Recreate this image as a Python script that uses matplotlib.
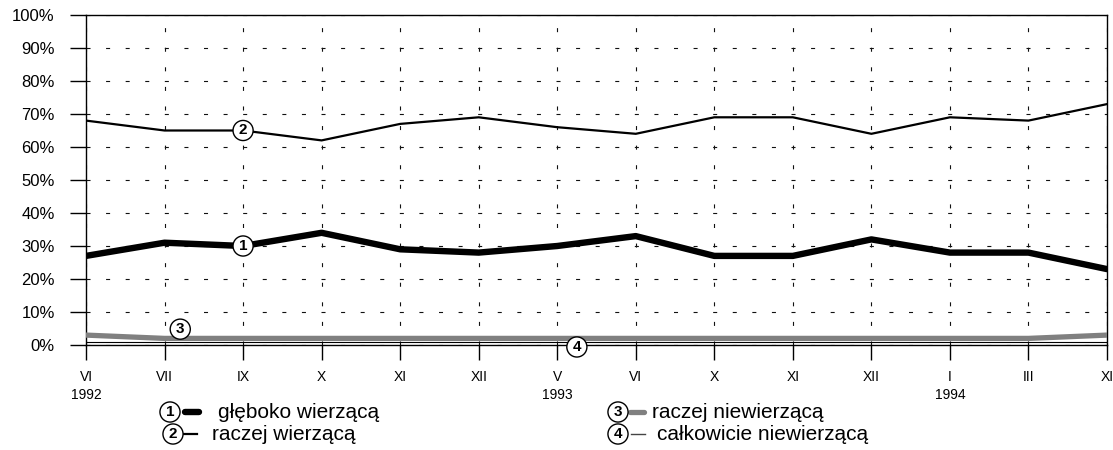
import matplotlib
matplotlib.use("Agg")
import matplotlib.pyplot as plt
from matplotlib.lines import Line2D

plt.rcParams['font.family'] = ['Liberation Sans', 'DejaVu Sans']
plt.rcParams['lines.scale_dashes'] = False

months = ["VI\n1992", "VII", "IX", "X", "XI", "XII", "V\n1993", "VI", "X", "XI", "XII", "I\n1994", "III", "XI"]
gleboko = [27, 31, 30, 34, 29, 28, 30, 33, 27, 27, 32, 28, 28, 23]
raczej_w = [68, 65, 65, 62, 67, 69, 66, 64, 69, 69, 64, 69, 68, 73]
raczej_n = [3, 2, 2, 2, 2, 2, 2, 2, 2, 2, 2, 2, 2, 3]
calkowicie = [1, 1, 1, 1, 1, 1, 1, 1, 1, 1, 1, 1, 1, 1]
legend_labels = ["głęboko wierzącą", "raczej wierzącą", "raczej niewierzącą", "całkowicie niewierzącą"]
yticks = list(range(0, 101, 10))
ytick_labels = [f"{v}%" for v in yticks]

W, H = 1113, 450
fig = plt.figure(figsize=(W / 100, H / 100), dpi=100)
ax = fig.add_axes([86 / W, 105 / H, 1021 / W, 330 / H])

x = list(range(len(months)))

ax.plot(x, raczej_n, color="#808080", lw=3.8, solid_capstyle="round", solid_joinstyle="round", zorder=3)
ax.plot(x, calkowicie, color="black", lw=0.8, zorder=4)
ax.plot(x, raczej_w, color="black", lw=1.6, solid_joinstyle="round", zorder=4)
ax.plot(x, gleboko, color="black", lw=4.6, solid_capstyle="round", solid_joinstyle="round", zorder=5)

ax.set_xlim(0, len(months) - 1)
ax.set_ylim(0, 100)
ax.set_xticks(x)
ax.set_xticklabels(months, fontsize=10, linespacing=1.4)
ax.set_yticks(yticks)
ax.set_yticklabels(ytick_labels, fontsize=12)

ax.tick_params(axis="y", direction="out", length=11.5, width=1, pad=11)
ax.tick_params(axis="x", direction="out", length=11, width=1, pad=7)

ax.grid(True, color="#111111", lw=0.8, linestyle=(0, (2.9, 11.2)))
ax.set_axisbelow(True)
for s in ax.spines.values():
    s.set_linewidth(1)
    s.set_color("black")

circ = dict(boxstyle="circle,pad=0.2", fc="white", ec="black", lw=1)

def badge(xx, yy, s):
    ax.text(xx, yy, s, ha="center", va="center", fontsize=11, fontweight="bold",
            bbox=circ, zorder=10, clip_on=False)

badge(2, gleboko[2], "1")
badge(2, raczej_w[2], "2")
badge(1.2, 4.8, "3")
badge(6.25, -0.6, "4")

# legend
def fx(px):
    return px / W

def fy(py):
    return 1 - py / H

rows = [
    (170, 412, "1", dict(color="black", lw=4.6, solid_capstyle="round"), 185, 199, 218, legend_labels[0]),
    (173, 434, "2", dict(color="black", lw=1.6), 184, 197, 212, legend_labels[1]),
    (618, 412, "3", dict(color="#808080", lw=3.8, solid_capstyle="round"), 630, 644, 652, legend_labels[2]),
    (618, 434, "4", dict(color="#444444", lw=1.0), 631, 645, 657, legend_labels[3]),
]
for cx, cy, num, lkw, l0, l1, tx, lab in rows:
    fig.add_artist(Line2D([fx(l0), fx(l1)], [fy(cy), fy(cy)], transform=fig.transFigure, **lkw))
    fig.text(fx(cx), fy(cy), num, ha="center", va="center", fontsize=11, fontweight="bold", bbox=circ)
    fig.text(fx(tx), fy(cy), lab, ha="left", va="center", fontsize=15)

fig.savefig("out.png", dpi=100)
